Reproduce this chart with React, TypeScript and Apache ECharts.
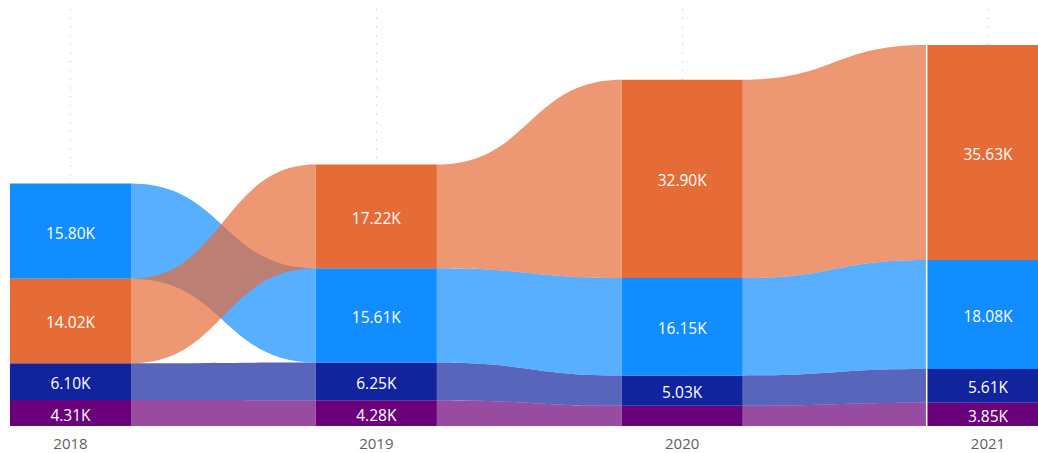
import React, { useEffect, useRef } from 'react';
import * as echarts from 'echarts';

// ---- data (values in thousands) ----
const categories = ['2018', '2019', '2020', '2021'];
const seriesNames = ['Series A', 'Series B', 'Series C', 'Series D'];
const orangeValues = [14.02, 17.22, 32.9, 35.63];
const blueValues = [15.8, 15.61, 16.15, 18.08];
const darkBlueValues = [6.1, 6.25, 5.03, 5.61];
const purpleValues = [4.31, 4.28, 3.35, 3.85];
const seriesColors = ['#E66C37', '#118DFF', '#12239E', '#6B007B'];

const allValues = [orangeValues, blueValues, darkBlueValues, purpleValues];

const BAR_RATIO = 0.396;
const FONT = '"Open Sans", "Noto Sans", sans-serif';

// stack: largest on top, smallest at bottom, per category
function computeStacks() {
  const bottoms = allValues.map(() => new Array(categories.length).fill(0));
  const tops = allValues.map(() => new Array(categories.length).fill(0));
  for (let i = 0; i < categories.length; i++) {
    const order = allValues.map((_, s) => s).sort((a, b) => allValues[a][i] - allValues[b][i]);
    let acc = 0;
    for (const s of order) {
      bottoms[s][i] = acc;
      acc += allValues[s][i];
      tops[s][i] = acc;
    }
  }
  return { bottoms, tops };
}

export default function App() {
  const ref = useRef<HTMLDivElement>(null);
  useEffect(() => {
    if (!ref.current) return;
    const chart = echarts.init(ref.current, undefined, { renderer: 'svg' });
    const { bottoms, tops } = computeStacks();
    const drawOrder = [3, 2, 1, 0];
    const lastIndex = categories.length - 1;

    const ribbonSeries = drawOrder.map((s) => ({
      type: 'custom',
      name: seriesNames[s] + ' ribbon',
      clip: false,
      silent: true,
      data: categories.slice(0, -1).map((_, i) => [
        i,
        bottoms[s][i],
        tops[s][i],
        bottoms[s][i + 1],
        tops[s][i + 1],
      ]),
      renderItem: (params: any, api: any) => {
        const i = api.value(0);
        const p0t = api.coord([i, api.value(2)]);
        const p0b = api.coord([i, api.value(1)]);
        const p1t = api.coord([i + 1, api.value(4)]);
        const p1b = api.coord([i + 1, api.value(3)]);
        const band = api.size([1, 0])[0];
        const half = (band * BAR_RATIO) / 2;
        const x0 = p0t[0] + half;
        const x1 = p1t[0] - half - (i + 1 === lastIndex ? 1.5 : 0);
        const xm = (x0 + x1) / 2;
        const d =
          `M${x0},${p0t[1]} C${xm},${p0t[1]} ${xm},${p1t[1]} ${x1},${p1t[1]} ` +
          `L${x1},${p1b[1]} C${xm},${p1b[1]} ${xm},${p0b[1]} ${x0},${p0b[1]} Z`;
        return {
          type: 'path',
          shape: { pathData: d },
          style: { fill: echarts.color.modifyAlpha(seriesColors[s], 0.7) },
        };
      },
    }));

    const barSeries = drawOrder.map((s) => ({
      type: 'custom',
      name: seriesNames[s],
      clip: false,
      data: categories.map((_, i) => [i, bottoms[s][i], tops[s][i], allValues[s][i]]),
      renderItem: (params: any, api: any) => {
        const i = api.value(0);
        const pt = api.coord([i, api.value(2)]);
        const pb = api.coord([i, api.value(1)]);
        const band = api.size([1, 0])[0];
        const w = band * BAR_RATIO;
        const h = pb[1] - pt[1];
        const children: any[] = [
          {
            type: 'rect',
            shape: { x: pt[0] - w / 2, y: pt[1], width: w, height: h },
            style: { fill: seriesColors[s] },
          },
        ];
        if (h >= 22) {
          children.push({
            type: 'text',
            style: {
              text: Number(api.value(3)).toFixed(2) + 'K',
              x: pt[0],
              y: pt[1] + h / 2 + 1.5,
              align: 'center',
              verticalAlign: 'middle',
              fill: '#FFFFFF',
              fontSize: 15.5,
              fontFamily: FONT,
            },
          });
        }
        return { type: 'group', children };
      },
    }));

    chart.setOption({
      animation: false,
      grid: { left: 70.5, right: 50, top: 9, bottom: 27 },
      xAxis: {
        type: 'category',
        data: categories,
        boundaryGap: false,
        axisLine: { show: false },
        axisTick: { show: false },
        axisLabel: {
          color: '#605E5C',
          fontSize: 15,
          lineHeight: 15,
          fontFamily: FONT,
          margin: 9,
        },
        splitLine: {
          show: true,
          lineStyle: { color: '#C8C6C4', width: 1, type: [1.2, 7.5] },
        },
      },
      yAxis: {
        type: 'value',
        min: 0,
        max: 69.15,
        show: false,
        splitLine: { show: false },
      },
      series: [...ribbonSeries, ...barSeries],
    });
    return () => chart.dispose();
  }, []);
  return (
    <div
      ref={ref}
      style={{ position: 'absolute', left: 0, top: 0, width: 1038, height: 453 }}
    />
  );
}
